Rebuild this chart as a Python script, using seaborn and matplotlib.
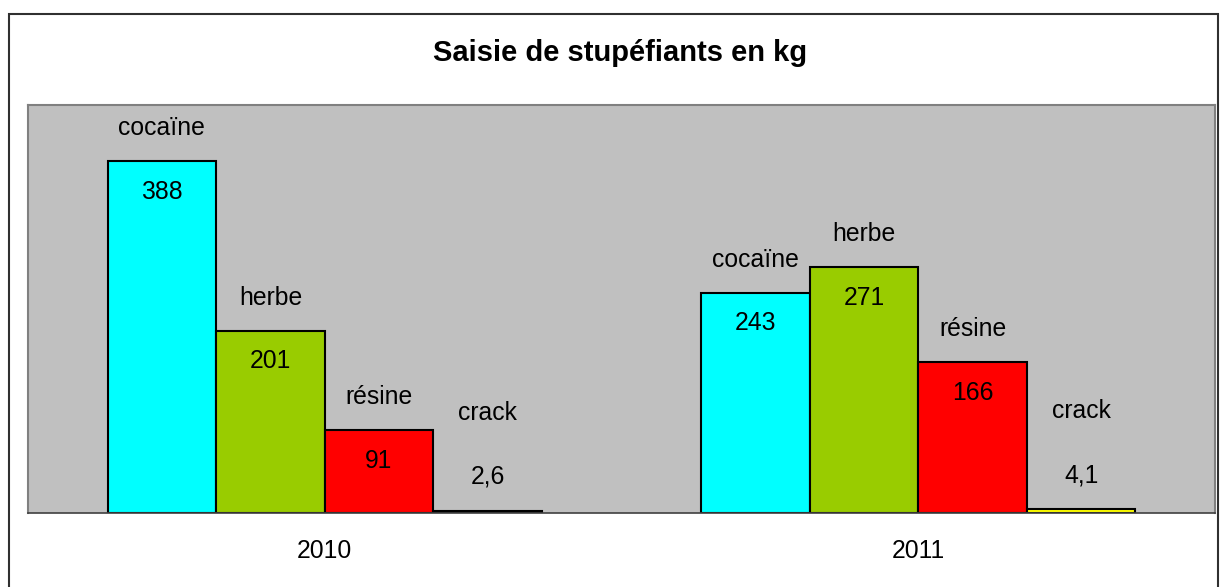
import pandas as pd
import matplotlib.pyplot as plt
import matplotlib.patches as mpatches
import seaborn as sns

# Données
annees = ['2010', '2011']
produits = ['cocaïne', 'herbe', 'résine', 'crack']
cocaine = [388, 243]
herbe = [201, 271]
resine = [91, 166]
crack = [2.6, 4.1]
couleurs = ['#00FFFF', '#99CC00', '#FF0000', '#FFFF00']

df = pd.DataFrame({
    'annee': annees * 4,
    'produit': [p for p in produits for _ in annees],
    'kg': cocaine + herbe + resine + crack,
})

sns.set_theme(style='white')
plt.rcParams['font.family'] = ['Liberation Sans', 'DejaVu Sans']

fig = plt.figure(figsize=(12.2, 5.87), dpi=100)
ax = fig.add_axes([28 / 1220, 1 - 513 / 587, (1215 - 28) / 1220, (513 - 105) / 587])

sns.barplot(data=df, x='annee', y='kg', hue='produit', order=annees, hue_order=produits,
            palette=couleurs, width=0.732, gap=0, edgecolor='black', linewidth=1.5,
            saturation=1, legend=False, ax=ax)

ax.set_facecolor('#C0C0C0')
ax.set_ylim(0, 450)
ax.set_xlim(-0.5, 1.5)
ax.set_yticks([])
ax.set_xlabel('')
ax.set_ylabel('')

for side in ['left', 'top', 'right']:
    ax.spines[side].set_color('#808080')
    ax.spines[side].set_linewidth(1.5)
ax.spines['bottom'].set_color('#404040')
ax.spines['bottom'].set_linewidth(1.2)

# Libellés des catégories centrés, graduations aux limites
ax.set_xticks([0, 1])
ax.set_xticklabels(annees, fontsize=17.8, color='black')
ax.tick_params(axis='x', which='major', length=0, pad=19)
ax.set_xticks([-0.5, 0.5, 1.5], minor=True)
ax.tick_params(axis='x', which='minor', length=6.5, width=1, color='#404040', direction='out')

# Étiquettes : nom au-dessus, valeur dans la barre
for nom, cont in zip(produits, ax.containers):
    for bar in cont:
        h = bar.get_height()
        xc = bar.get_x() + bar.get_width() / 2
        txt = f'{h:g}'.replace('.', ',')
        if nom == 'crack':
            off_val, off_nom = 24.5, 70.5
        else:
            off_val, off_nom = -22, 23.8
        ax.annotate(txt, (xc, h), xytext=(0, off_val), textcoords='offset points',
                    ha='center', va='center', fontsize=17.8, color='black')
        ax.annotate(nom, (xc, h), xytext=(0, off_nom), textcoords='offset points',
                    ha='center', va='center', fontsize=17.8, color='black')

fig.text(620 / 1220, 1 - 53 / 587, 'Saisie de stupéfiants en kg', ha='center', va='center',
         fontsize=21, fontweight='bold', color='black')

# Cadre extérieur
cadre = mpatches.Rectangle((9 / 1220, -0.02), (1218 - 9) / 1220, 1.02 - 14 / 587,
                           transform=fig.transFigure, fill=False, edgecolor='#303030',
                           linewidth=1.5)
fig.patches.append(cadre)

fig.savefig('out.png', dpi=100)
